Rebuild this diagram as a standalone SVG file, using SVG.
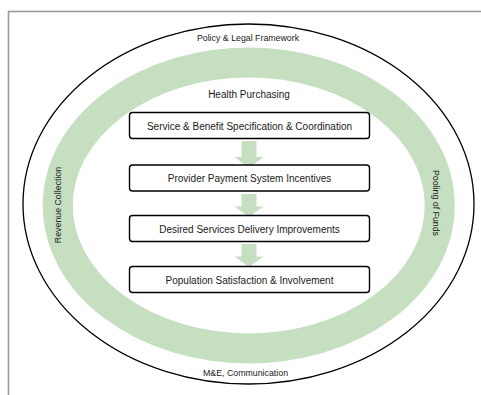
<svg xmlns="http://www.w3.org/2000/svg" width="481" height="395" viewBox="0 0 481 395">
<style>
text{font-family:"Liberation Sans",Arial,sans-serif;fill:#1a1a1a}
.lbl{font-size:8.8px}
.box{fill:#fff;stroke:#000;stroke-width:1.4}
.bt{font-size:10px;text-anchor:middle}
.arr{fill:#c5dfc0}
</style>
<rect x="0" y="0" width="481" height="395" fill="#fff"/>
<rect x="8.5" y="11.5" width="480" height="400" fill="none" stroke="#9a9a9a" stroke-width="1.6"/>
<g id="policy">
<ellipse cx="248.5" cy="204" rx="225.5" ry="180" fill="none" stroke="#000" stroke-width="1.3"/>
<text class="lbl" x="248" y="41" text-anchor="middle">Policy &amp; Legal Framework</text>
<text class="lbl" x="245.5" y="376" text-anchor="middle">M&amp;E, Communication</text>
</g>
<g id="ring">
<ellipse cx="248.75" cy="205.5" rx="191" ry="143" fill="none" stroke="#c5dfc0" stroke-width="30"/>
<text class="lbl" transform="translate(61,205) rotate(-90)" text-anchor="middle">Revenue Collection</text>
<text class="lbl" transform="translate(433,203) rotate(90)" text-anchor="middle">Pooling of Funds</text>
</g>
<text id="hp" x="249" y="98" font-size="10px" text-anchor="middle">Health Purchasing</text>
<g id="connectors">
<polygon class="arr" points="241.5,141 256.5,141 256.5,157 263.5,157 249,168 234.5,157 241.5,157"/>
<polygon class="arr" points="241.5,194 256.5,194 256.5,206.5 263.5,206.5 249,217 234.5,206.5 241.5,206.5"/>
<polygon class="arr" points="241.5,244 256.5,244 256.5,256.5 263.5,256.5 249,267 234.5,256.5 241.5,256.5"/>
</g>
<g id="n1"><rect class="box" x="129.5" y="112.5" width="240" height="26" rx="3"/><text class="bt" x="249.5" y="129.5">Service &amp; Benefit Specification &amp; Coordination</text></g>
<g id="n2"><rect class="box" x="129.5" y="165" width="240" height="26" rx="3"/><text class="bt" x="249.5" y="182">Provider Payment System Incentives</text></g>
<g id="n3"><rect class="box" x="129.5" y="215.5" width="240" height="26" rx="3"/><text class="bt" x="249.5" y="232.5">Desired Services Delivery Improvements</text></g>
<g id="n4"><rect class="box" x="129.5" y="266.5" width="240" height="26" rx="3"/><text class="bt" x="249.5" y="283.5">Population Satisfaction &amp; Involvement</text></g>
</svg>
